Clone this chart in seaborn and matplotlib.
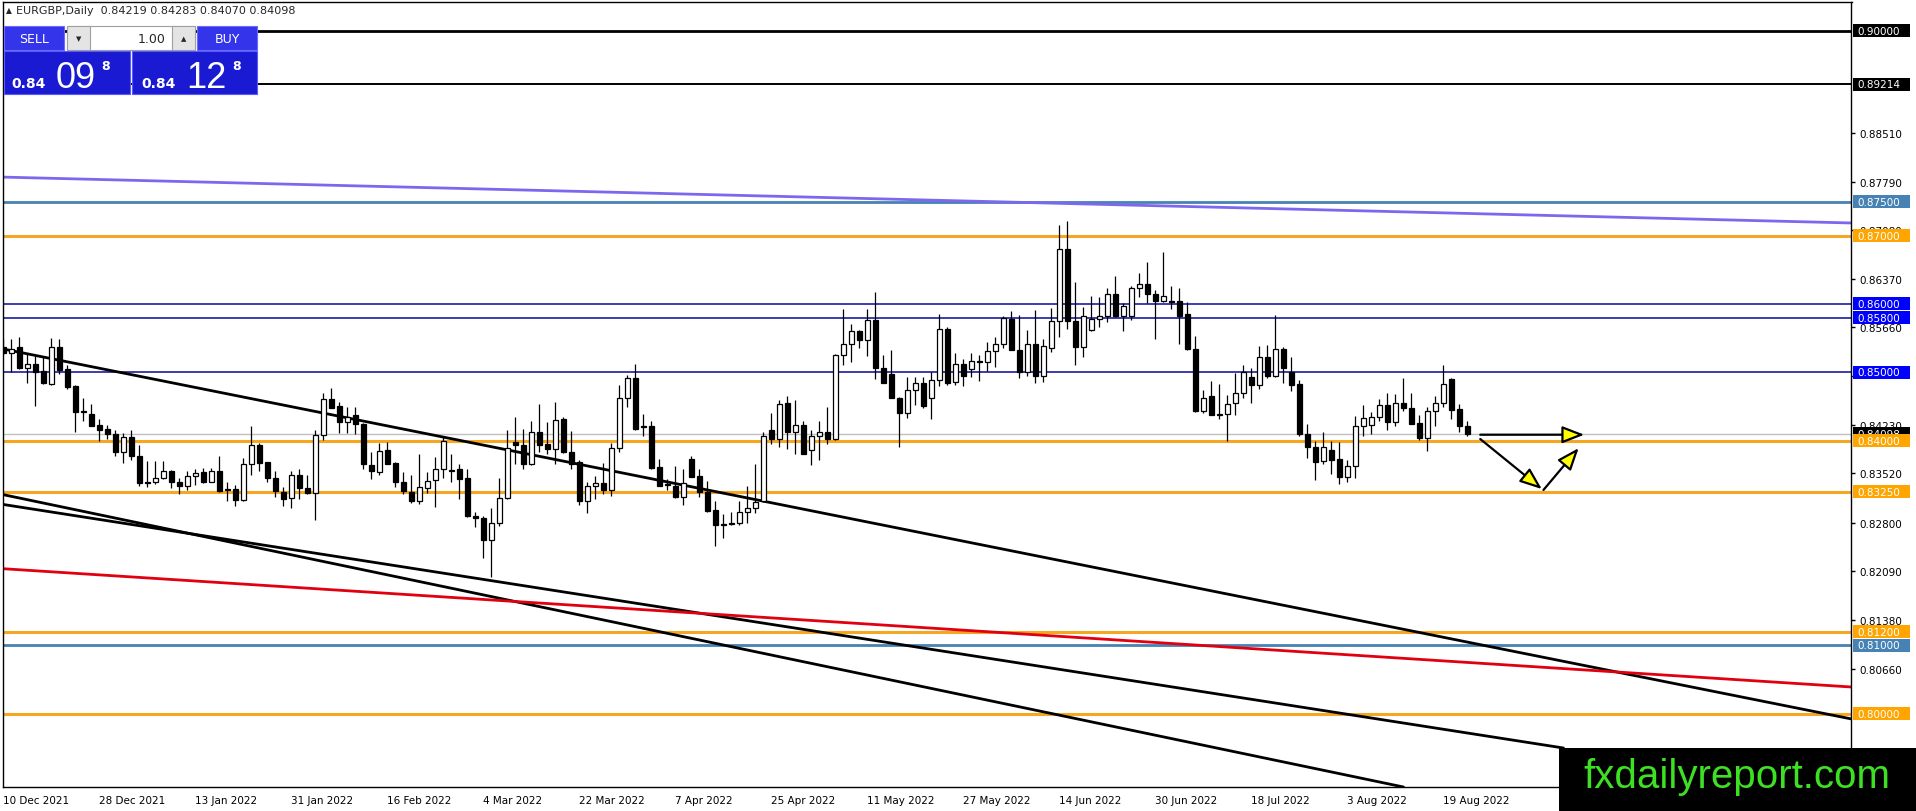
import matplotlib
matplotlib.use('Agg')
import matplotlib.pyplot as plt
import matplotlib.transforms as mtransforms
from matplotlib.patches import Rectangle
import numpy as np
import pandas as pd
import seaborn as sns

sns.set_style('white')
plt.rcParams['font.family'] = ['DejaVu Sans']

# Daily EURGBP candles, 10 Dec 2021 .. 24 Aug 2022
opens = [0.8537, 0.8528, 0.8537, 0.8507, 0.8512, 0.8502, 0.8483, 0.8537, 0.8505, 0.8480,
         0.8443, 0.8439, 0.8423, 0.8417, 0.8410, 0.8384, 0.8405, 0.8378, 0.8340, 0.8339,
         0.8345, 0.8356, 0.8340, 0.8333, 0.8348, 0.8354, 0.8340, 0.8356, 0.8329, 0.8329,
         0.8313, 0.8365, 0.8394, 0.8368, 0.8345, 0.8324, 0.8316, 0.8350, 0.8331, 0.8323,
         0.8408, 0.8461, 0.8450, 0.8427, 0.8438, 0.8425, 0.8364, 0.8354, 0.8386, 0.8367,
         0.8340, 0.8324, 0.8311, 0.8331, 0.8342, 0.8359, 0.8357, 0.8358, 0.8345, 0.8289,
         0.8287, 0.8255, 0.8279, 0.8316, 0.8398, 0.8394, 0.8365, 0.8412, 0.8395, 0.8388,
         0.8432, 0.8384, 0.8368, 0.8312, 0.8333, 0.8338, 0.8328, 0.8389, 0.8462, 0.8491,
         0.8421, 0.8421, 0.8361, 0.8336, 0.8334, 0.8317, 0.8373, 0.8348, 0.8324, 0.8298,
         0.8278, 0.8279, 0.8279, 0.8295, 0.8301, 0.8311, 0.8415, 0.8402, 0.8455, 0.8412,
         0.8423, 0.8386, 0.8406, 0.8412, 0.8402, 0.8525, 0.8542, 0.8560, 0.8547, 0.8576,
         0.8506, 0.8498, 0.8463, 0.8441, 0.8474, 0.8484, 0.8462, 0.8489, 0.8563, 0.8486,
         0.8512, 0.8505, 0.8516, 0.8515, 0.8531, 0.8541, 0.8578, 0.8533, 0.8500, 0.8542,
         0.8494, 0.8535, 0.8575, 0.8680, 0.8575, 0.8537, 0.8562, 0.8578, 0.8582, 0.8614,
         0.8582, 0.8582, 0.8624, 0.8629, 0.8614, 0.8605, 0.8604, 0.8604, 0.8585, 0.8534,
         0.8444, 0.8465, 0.8439, 0.8439, 0.8455, 0.8469, 0.8493, 0.8482, 0.8522, 0.8494,
         0.8534, 0.8501, 0.8483, 0.8410, 0.8390, 0.8370, 0.8386, 0.8373, 0.8347, 0.8363,
         0.8421, 0.8423, 0.8434, 0.8452, 0.8427, 0.8455, 0.8447, 0.8426, 0.8404, 0.8443,
         0.8455, 0.8490, 0.8446, 0.84219]
highs = [0.8550, 0.8549, 0.8551, 0.8527, 0.8524, 0.8524, 0.8550, 0.8549, 0.8511, 0.8481,
         0.8463, 0.8454, 0.8432, 0.8423, 0.8415, 0.8411, 0.8416, 0.8393, 0.8370, 0.8370,
         0.8370, 0.8357, 0.8345, 0.8355, 0.8358, 0.8360, 0.8360, 0.8377, 0.8339, 0.8335,
         0.8374, 0.8422, 0.8397, 0.8369, 0.8355, 0.8332, 0.8356, 0.8358, 0.8349, 0.8415,
         0.8470, 0.8477, 0.8456, 0.8449, 0.8449, 0.8426, 0.8384, 0.8397, 0.8398, 0.8368,
         0.8354, 0.8350, 0.8380, 0.8354, 0.8376, 0.8405, 0.8380, 0.8366, 0.8358, 0.8296,
         0.8289, 0.8302, 0.8345, 0.8415, 0.8434, 0.8417, 0.8428, 0.8454, 0.8427, 0.8456,
         0.8435, 0.8414, 0.8371, 0.8339, 0.8348, 0.8367, 0.8397, 0.8481, 0.8496, 0.8512,
         0.8439, 0.8429, 0.8373, 0.8344, 0.8363, 0.8359, 0.8378, 0.8358, 0.8341, 0.8312,
         0.8293, 0.8295, 0.8311, 0.8333, 0.8366, 0.8412, 0.8440, 0.8460, 0.8465, 0.8460,
         0.8429, 0.8416, 0.8429, 0.8449, 0.8527, 0.8592, 0.8571, 0.8562, 0.8593, 0.8617,
         0.8526, 0.8532, 0.8464, 0.8493, 0.8493, 0.8493, 0.8500, 0.8586, 0.8566, 0.8528,
         0.8520, 0.8528, 0.8526, 0.8544, 0.8551, 0.8582, 0.8590, 0.8584, 0.8562, 0.8591,
         0.8549, 0.8594, 0.8716, 0.8721, 0.8632, 0.8595, 0.8611, 0.8610, 0.8624, 0.8641,
         0.8602, 0.8626, 0.8646, 0.8662, 0.8620, 0.8676, 0.8627, 0.8623, 0.8603, 0.8553,
         0.8474, 0.8487, 0.8483, 0.8467, 0.8499, 0.8511, 0.8507, 0.8538, 0.8540, 0.8584,
         0.8537, 0.8523, 0.8488, 0.8424, 0.8400, 0.8413, 0.8400, 0.8398, 0.8372, 0.8436,
         0.8452, 0.8442, 0.8461, 0.8470, 0.8468, 0.8491, 0.8470, 0.8438, 0.8449, 0.8466,
         0.8511, 0.8491, 0.8454, 0.84283]
lows = [0.8525, 0.8500, 0.8505, 0.8484, 0.8451, 0.8483, 0.8482, 0.8498, 0.8476, 0.8413,
        0.8429, 0.8421, 0.8400, 0.8402, 0.8377, 0.8367, 0.8371, 0.8334, 0.8332, 0.8337,
        0.8344, 0.8330, 0.8322, 0.8327, 0.8335, 0.8338, 0.8339, 0.8324, 0.8311, 0.8304,
        0.8312, 0.8349, 0.8355, 0.8340, 0.8318, 0.8304, 0.8301, 0.8315, 0.8322, 0.8283,
        0.8401, 0.8447, 0.8411, 0.8411, 0.8409, 0.8358, 0.8344, 0.8349, 0.8365, 0.8332,
        0.8322, 0.8309, 0.8307, 0.8323, 0.8303, 0.8345, 0.8340, 0.8314, 0.8288, 0.8273,
        0.8228, 0.8200, 0.8275, 0.8315, 0.8365, 0.8358, 0.8364, 0.8384, 0.8381, 0.8366,
        0.8382, 0.8359, 0.8306, 0.8294, 0.8314, 0.8322, 0.8319, 0.8384, 0.8449, 0.8415,
        0.8406, 0.8359, 0.8333, 0.8327, 0.8316, 0.8306, 0.8346, 0.8317, 0.8296, 0.8246,
        0.8258, 0.8276, 0.8277, 0.8280, 0.8294, 0.8310, 0.8395, 0.8391, 0.8388, 0.8380,
        0.8380, 0.8364, 0.8371, 0.8395, 0.8401, 0.8510, 0.8515, 0.8535, 0.8524, 0.8490,
        0.8484, 0.8462, 0.8391, 0.8433, 0.8452, 0.8447, 0.8431, 0.8480, 0.8482, 0.8481,
        0.8480, 0.8493, 0.8487, 0.8502, 0.8508, 0.8535, 0.8532, 0.8491, 0.8495, 0.8485,
        0.8486, 0.8530, 0.8551, 0.8564, 0.8510, 0.8522, 0.8561, 0.8567, 0.8573, 0.8581,
        0.8560, 0.8576, 0.8610, 0.8602, 0.8549, 0.8603, 0.8593, 0.8542, 0.8532, 0.8442,
        0.8440, 0.8437, 0.8431, 0.8400, 0.8438, 0.8463, 0.8455, 0.8475, 0.8491, 0.8493,
        0.8484, 0.8473, 0.8407, 0.8374, 0.8343, 0.8366, 0.8351, 0.8337, 0.8339, 0.8345,
        0.8407, 0.8410, 0.8428, 0.8416, 0.8421, 0.8444, 0.8424, 0.8401, 0.8385, 0.8422,
        0.8449, 0.8432, 0.8413, 0.84070]
closes = [0.8528, 0.8534, 0.8506, 0.8512, 0.8500, 0.8484, 0.8537, 0.8504, 0.8478, 0.8442,
          0.8442, 0.8422, 0.8416, 0.8409, 0.8384, 0.8405, 0.8377, 0.8338, 0.8338, 0.8345,
          0.8356, 0.8339, 0.8334, 0.8348, 0.8353, 0.8340, 0.8356, 0.8326, 0.8327, 0.8313,
          0.8365, 0.8394, 0.8367, 0.8345, 0.8326, 0.8314, 0.8349, 0.8331, 0.8323, 0.8408,
          0.8461, 0.8448, 0.8427, 0.8435, 0.8425, 0.8365, 0.8355, 0.8385, 0.8366, 0.8340,
          0.8326, 0.8311, 0.8332, 0.8341, 0.8359, 0.8400, 0.8356, 0.8344, 0.8289, 0.8287,
          0.8255, 0.8279, 0.8316, 0.8389, 0.8393, 0.8365, 0.8412, 0.8394, 0.8388, 0.8430,
          0.8383, 0.8366, 0.8312, 0.8333, 0.8338, 0.8328, 0.8389, 0.8462, 0.8491, 0.8417,
          0.8420, 0.8360, 0.8334, 0.8335, 0.8317, 0.8338, 0.8347, 0.8324, 0.8297, 0.8276,
          0.8277, 0.8278, 0.8295, 0.8301, 0.8310, 0.8407, 0.8402, 0.8454, 0.8412, 0.8423,
          0.8381, 0.8406, 0.8412, 0.8402, 0.8525, 0.8542, 0.8560, 0.8547, 0.8576, 0.8506,
          0.8485, 0.8463, 0.8441, 0.8474, 0.8484, 0.8450, 0.8489, 0.8563, 0.8485, 0.8512,
          0.8494, 0.8516, 0.8515, 0.8531, 0.8541, 0.8580, 0.8533, 0.8500, 0.8542, 0.8494,
          0.8538, 0.8575, 0.8680, 0.8575, 0.8537, 0.8583, 0.8578, 0.8582, 0.8614, 0.8582,
          0.8597, 0.8624, 0.8629, 0.8614, 0.8605, 0.8612, 0.8603, 0.8583, 0.8534, 0.8443,
          0.8462, 0.8438, 0.8438, 0.8454, 0.8469, 0.8500, 0.8482, 0.8522, 0.8494, 0.8534,
          0.8506, 0.8482, 0.8409, 0.8390, 0.8368, 0.8390, 0.8372, 0.8347, 0.8363, 0.8421,
          0.8433, 0.8435, 0.8452, 0.8427, 0.8455, 0.8448, 0.8425, 0.8404, 0.8443, 0.8455,
          0.8483, 0.8445, 0.8421, 0.84098]

# horizontal levels and their colours
levels = [0.90000, 0.89214, 0.87500, 0.87000, 0.86000, 0.85800, 0.85000,
          0.84000, 0.83250, 0.81200, 0.81000, 0.80000]
level_line_colors = ['#000000', '#000000', '#4682B4', '#F5A623', '#1C1C9E', '#1C1C9E', '#1C1C9E',
                     '#F5A623', '#F5A623', '#F5A623', '#4682B4', '#F5A623']
level_box_colors = ['#000000', '#000000', '#4682B4', '#FFA500', '#0000FF', '#0000FF', '#0000FF',
                    '#FFA500', '#FFA500', '#FFA500', '#4682B4', '#FFA500']
level_widths = [2.0, 1.4, 2.0, 2.2, 1.2, 1.2, 1.2, 2.2, 2.2, 2.2, 2.0, 2.2]

# price scale labels on the right (0.84950 sits under the 0.85000 box, so no text)
scale_prices = [0.88510, 0.87790, 0.87080, 0.86370, 0.85660, 0.84950,
                0.84230, 0.83520, 0.82800, 0.82090, 0.81380, 0.80660]
scale_labels = ['0.88510', '0.87790', '0.87080', '0.86370', '0.85660', '',
                '0.84230', '0.83520', '0.82800', '0.82090', '0.81380', '0.80660']

# trend lines: (bar index, price) end points
trend_x = [[0, 231], [-0.4, 175], [-0.4, 195], [-0.4, 231], [-0.4, 231]]
trend_y = [[0.85341, 0.79924], [0.83218, 0.78928], [0.83072, 0.79499],
           [0.82127, 0.80392], [0.87859, 0.87186]]
trend_colors = ['black', 'black', 'black', '#E00010', '#7B68EE']

# scenario arrows
arrow_start = [(184.6, 0.84086), (184.6, 0.84023), (192.5, 0.83277)]
arrow_end = [(197.6, 0.84086), (192.3, 0.83290), (196.9, 0.83890)]

n = len(opens)
dates = pd.bdate_range('2021-12-10', periods=n)
date_ticks = list(range(0, n, 12))
date_labels = [f"{dates[i].day} {dates[i]:%b %Y}" for i in date_ticks]

W, H = 1916, 812
fig = plt.figure(figsize=(W / 100, H / 100), dpi=100)
fig.patch.set_facecolor('white')
ax = fig.add_axes([2.7 / W, 24 / H, 1848.8 / W, 785.3 / H])
ax.set_facecolor('white')

o = np.array(opens); c = np.array(closes)
h = np.array(highs); l = np.array(lows)
x = np.arange(n)
up = c >= o

# level lines
for lvl, col, lw in zip(levels, level_line_colors, level_widths):
    ax.axhline(lvl, color=col, lw=lw, zorder=1.6)
ax.axhline(closes[-1], color='#C0C0C0', lw=1.0, zorder=1.5)

# trend lines
for tx, ty, col in zip(trend_x, trend_y, trend_colors):
    sns.lineplot(x=tx, y=ty, ax=ax, color=col, lw=2.0, legend=False, zorder=2)

# candles
ax.vlines(x, l, h, color='black', lw=0.9, zorder=3)
body_lo = np.minimum(o, c)
body_h = np.maximum(np.abs(c - o), 0.00005)
ax.bar(x, body_h, bottom=body_lo, width=0.62, color=np.where(up, 'white', 'black'),
       edgecolor='black', linewidth=0.9, zorder=4)

# arrows
for (x0, y0), (x1, y1) in zip(arrow_start, arrow_end):
    ax.annotate('', xy=(x1, y1), xytext=(x0, y0),
                arrowprops=dict(arrowstyle='-|>,head_length=0.9,head_width=0.35',
                                fc='#FFFF00', ec='black', lw=1.6,
                                shrinkA=0, shrinkB=0, mutation_scale=15),
                zorder=6)

ax.set_xlim(-0.07, 231.0)
ax.set_ylim(0.78928, 0.90426)

for sp in ax.spines.values():
    sp.set_color('black')
    sp.set_linewidth(1.0)

ax.yaxis.tick_right()
ax.set_yticks(scale_prices, scale_labels)
ax.tick_params(axis='y', direction='out', length=3, width=1, pad=3,
               labelsize=7.5, colors='black')
ax.set_xticks(date_ticks, date_labels)
ax.tick_params(axis='x', direction='out', length=3, width=1, pad=3,
               labelsize=7.5, colors='black')
for t in ax.get_xticklabels():
    t.set_horizontalalignment('left')

# price boxes on the right scale
trans = mtransforms.blended_transform_factory(ax.transAxes, ax.transData)
axw = 1848.8
box_h = 13 / 6830


def price_box(price, bg, z):
    ax.add_patch(Rectangle((1 + 2 / axw, price - box_h / 2), 57 / axw, box_h,
                           transform=trans, fc=bg, ec='none', clip_on=False, zorder=z))
    ax.text(1 + 6 / axw, price, f'{price:.5f}', transform=trans, color='white',
            fontsize=7.5, ha='left', va='center', clip_on=False, zorder=z + 0.1)


price_box(closes[-1], '#000000', 7)
for lvl, bg in zip(levels, level_box_colors):
    price_box(lvl, bg, 8)

# overlay: title, trade panel, watermark
ov = fig.add_axes([0, 0, 1, 1], zorder=10)
ov.set_xlim(0, W)
ov.set_ylim(H, 0)
ov.axis('off')
ov.patch.set_visible(False)

ov.text(6, 11, '\u25B2', fontsize=5.5, va='center', ha='left')
ov.text(16, 11, 'EURGBP,Daily  0.84219 0.84283 0.84070 0.84098', fontsize=8,
        va='center', ha='left')

panel_blue = '#1A1AD2'
head_blue = '#3434EA'
ov.add_patch(Rectangle((4, 27), 60, 24, fc=head_blue, ec='#6A6AFF', lw=0.8))
ov.add_patch(Rectangle((197, 27), 60, 24, fc=head_blue, ec='#6A6AFF', lw=0.8))
ov.text(34, 39.5, 'SELL', color='white', fontsize=9, ha='center', va='center')
ov.text(227, 39.5, 'BUY', color='white', fontsize=9, ha='center', va='center')
ov.add_patch(Rectangle((67, 27), 128, 24, fc='white', ec='#A0A0A0', lw=0.8))
ov.add_patch(Rectangle((67, 27), 23, 24, fc='#E4E4E4', ec='#A0A0A0', lw=0.8))
ov.add_patch(Rectangle((172, 27), 23, 24, fc='#E4E4E4', ec='#A0A0A0', lw=0.8))
ov.text(78.5, 39.5, '\u25BC', fontsize=5, ha='center', va='center')
ov.text(183.5, 39.5, '\u25B2', fontsize=5, ha='center', va='center')
ov.text(166, 39.5, '1.00', fontsize=9, ha='right', va='center')

ov.add_patch(Rectangle((4, 52), 126, 43, fc=panel_blue, ec='#5A5AFF', lw=0.8))
ov.add_patch(Rectangle((132, 52), 125, 43, fc=panel_blue, ec='#5A5AFF', lw=0.8))
big = ['Liberation Sans', 'DejaVu Sans']
ov.text(11, 88, '0.84', color='white', fontsize=10, fontweight='bold', va='baseline')
ov.text(56, 88, '09', color='white', fontsize=26, family=big, va='baseline')
ov.text(101, 70, '8', color='white', fontsize=9, fontweight='bold', va='baseline')
ov.text(141, 88, '0.84', color='white', fontsize=10, fontweight='bold', va='baseline')
ov.text(186, 88, '12', color='white', fontsize=26, family=big, va='baseline')
ov.text(232, 70, '8', color='white', fontsize=9, fontweight='bold', va='baseline')

# watermark
ov.add_patch(Rectangle((1559, 749), W - 1559, H - 749, fc='black', ec='none'))
ov.text(1737, 788, 'fxdailyreport.com', color='#3DE023', fontsize=29,
        family=['Liberation Sans', 'DejaVu Sans'], ha='center', va='baseline')

fig.savefig('out.png', dpi=100, facecolor='white')
